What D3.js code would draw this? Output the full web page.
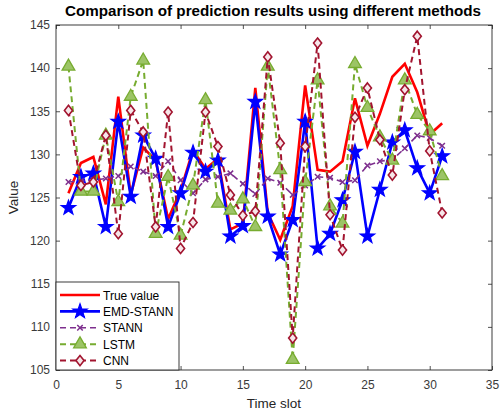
<!DOCTYPE html>
<html>
<head>
<meta charset="utf-8">
<script src="https://cdn.jsdelivr.net/npm/d3@7"></script>
<style>
  html, body { margin: 0; padding: 0; background: #fff; }
  svg { display: block; font-family: "Liberation Sans", Arial, Helvetica, sans-serif; }
</style>
</head>
<body>
<svg id="chart" width="500" height="417"></svg>
<script>
const timeSlots = d3.range(1, 32);
const trueValue = [125.5,129.0,129.7,124.2,136.7,125.3,130.8,129.3,122.5,125.8,130.5,128.3,129.5,121.3,122.0,137.7,123.2,120.1,124.0,138.0,128.2,128.0,129.2,136.5,131.0,134.7,139.0,140.5,137.2,132.3,133.6];
const emdStann = [123.8,127.4,127.8,121.6,133.8,125.1,132.2,129.5,121.6,125.5,130.2,128.0,129.3,120.5,121.7,136.1,122.8,118.4,122.4,133.8,119.1,120.8,124.7,130.3,120.5,125.9,131.4,132.8,128.4,125.5,129.8];
const stann = [126.8,126.9,127.0,127.2,127.5,128.6,128.0,127.5,129.2,127.0,125.5,127.1,127.4,127.8,126.6,125.4,127.2,126.7,125.3,126.4,127.4,127.3,126.8,127.0,128.7,129.2,129.4,130.7,132.2,131.9,131.0];
const lstm = [140.2,125.7,125.7,132.2,124.5,136.7,140.9,120.8,127.4,120.6,126.4,136.3,124.3,123.5,124.8,121.6,140.2,128.2,106.2,126.8,138.6,124.0,122.0,140.5,135.4,132.0,129.3,138.6,134.6,132.7,127.5];
const cnn = [135.1,126.4,126.8,132.2,120.8,135.1,132.6,121.6,134.9,119.1,122.1,134.9,130.9,125.3,122.9,123.4,141.3,131.3,108.7,130.9,142.9,123.0,118.9,134.3,137.7,131.7,127.6,137.5,143.7,130.4,123.2];
const seriesNames = ["True value", "EMD-STANN", "STANN", "LSTM", "CNN"];
const xTicks = [0, 5, 10, 15, 20, 25, 30, 35];
const yTicks = [105, 110, 115, 120, 125, 130, 135, 140, 145];
const titleText = "Comparison of prediction results using different methods";
const xLabel = "Time slot";
const yLabel = "Value";

const svg = d3.select("#chart");
const L = 56, R = 492, T = 25, B = 370;
const x = d3.scaleLinear().domain([0, 35]).range([L, R]);
const y = d3.scaleLinear().domain([105, 145]).range([B, T]);

svg.append("rect").attr("x", L).attr("y", T).attr("width", R - L).attr("height", B - T).attr("fill", "#fff");

const tickCol = "#262626";
function styleAxis(g) {
  g.select(".domain").remove();
  g.selectAll(".tick line").attr("stroke", tickCol).attr("stroke-width", 0.8);
  g.selectAll(".tick text").attr("fill", "#3a3a3a").style("font-size", "12px");
}
svg.append("g").attr("transform", `translate(0,${B})`)
  .call(d3.axisBottom(x).tickValues(xTicks).tickSizeInner(-4).tickSizeOuter(0).tickPadding(10))
  .call(styleAxis);
svg.append("g").attr("transform", `translate(0,${T})`)
  .call(d3.axisTop(x).tickValues(xTicks).tickSizeInner(-4).tickSizeOuter(0).tickFormat(""))
  .call(styleAxis);
svg.append("g").attr("transform", `translate(${L},0)`)
  .call(d3.axisLeft(y).tickValues(yTicks).tickSizeInner(-4).tickSizeOuter(0).tickPadding(6))
  .call(styleAxis);
svg.append("g").attr("transform", `translate(${R},0)`)
  .call(d3.axisRight(y).tickValues(yTicks).tickSizeInner(-4).tickSizeOuter(0).tickFormat(""))
  .call(styleAxis);

svg.append("rect").attr("x", L).attr("y", T).attr("width", R - L).attr("height", B - T)
  .attr("fill", "none").attr("stroke", tickCol).attr("stroke-width", 0.9);

const symTimes = {
  draw(ctx, size) {
    const r = Math.sqrt(size) / 2;
    ctx.moveTo(-r, -r); ctx.lineTo(r, r);
    ctx.moveTo(-r, r); ctx.lineTo(r, -r);
  }
};
const symDiamond = {
  draw(ctx, size) {
    const h = Math.sqrt(size) * 0.8, w = h * 0.8;
    ctx.moveTo(0, -h); ctx.lineTo(w, 0); ctx.lineTo(0, h); ctx.lineTo(-w, 0); ctx.closePath();
  }
};
const symStar = {
  draw(ctx, size) {
    const ro = Math.sqrt(size) * 0.95, ri = ro * 0.4;
    for (let k = 0; k < 10; k++) {
      const r = k % 2 ? ri : ro;
      const a = -Math.PI / 2 + k * Math.PI / 5;
      const px = r * Math.cos(a), py = r * Math.sin(a);
      if (k === 0) ctx.moveTo(px, py); else ctx.lineTo(px, py);
    }
    ctx.closePath();
  }
};

const series = [
  { name: seriesNames[0], values: trueValue, color: "#ff0000", width: 2.6, dash: null, symbol: null },
  { name: seriesNames[1], values: emdStann, color: "#0000ff", width: 2.6, dash: null, symbol: symStar, size: 64, fill: "#0000ff", sw: 1.2 },
  { name: seriesNames[2], values: stann, color: "#7e2f8e", width: 1.6, dash: "6,4", symbol: symTimes, size: 30, fill: "none", sw: 1.5 },
  { name: seriesNames[3], values: lstm, color: "#77ac30", width: 2.0, dash: "6,4", symbol: d3.symbolTriangle, size: 70, fill: "#9cc466", sw: 1.3 },
  { name: seriesNames[4], values: cnn, color: "#a2142f", width: 2.0, dash: "6,4", symbol: symDiamond, size: 40, fill: "#f6e6e9", sw: 1.6 }
];

const line = d3.line().x((d, i) => x(timeSlots[i])).y(d => y(d));

const plot = svg.append("g");
series.forEach(s => {
  plot.append("path").datum(s.values)
    .attr("d", line)
    .attr("fill", "none")
    .attr("stroke", s.color)
    .attr("stroke-width", s.width)
    .attr("stroke-dasharray", s.dash)
    .attr("stroke-linejoin", "miter");
  if (s.symbol) {
    plot.append("g").selectAll("path").data(s.values).join("path")
      .attr("transform", (d, i) => `translate(${x(timeSlots[i])},${y(d)})`)
      .attr("d", d3.symbol().type(s.symbol).size(s.size))
      .attr("fill", s.fill)
      .attr("stroke", s.color)
      .attr("stroke-width", s.sw);
  }
});

svg.append("text").attr("x", (L + R) / 2 - 1).attr("y", 16).attr("text-anchor", "middle")
  .style("font-size", "15.2px").style("font-weight", "bold").attr("fill", "#000").text(titleText);
svg.append("text").attr("x", (L + R) / 2).attr("y", 408).attr("text-anchor", "middle")
  .style("font-size", "13.5px").attr("fill", tickCol).text(xLabel);
svg.append("text").attr("transform", `translate(18,${(T + B) / 2}) rotate(-90)`).attr("text-anchor", "middle")
  .style("font-size", "13.5px").attr("fill", tickCol).text(yLabel);

const lg = svg.append("g");
const lgX = 56, lgY = 282, lgW = 123, lgH = 88;
lg.append("rect").attr("x", lgX).attr("y", lgY).attr("width", lgW).attr("height", lgH)
  .attr("fill", "#fff").attr("stroke", tickCol).attr("stroke-width", 0.9);
series.forEach((s, i) => {
  const cy = lgY + 13 + i * 16.4;
  lg.append("line").attr("x1", lgX + 4).attr("x2", lgX + 44).attr("y1", cy).attr("y2", cy)
    .attr("stroke", s.color).attr("stroke-width", s.width).attr("stroke-dasharray", s.dash);
  if (s.symbol) {
    lg.append("path").attr("transform", `translate(${lgX + 24},${cy})`)
      .attr("d", d3.symbol().type(s.symbol).size(s.size))
      .attr("fill", s.fill).attr("stroke", s.color).attr("stroke-width", s.sw);
  }
  lg.append("text").attr("x", lgX + 47).attr("y", cy + 4.5).style("font-size", "12px")
    .attr("fill", "#000").text(s.name);
});
</script>
</body>
</html>
